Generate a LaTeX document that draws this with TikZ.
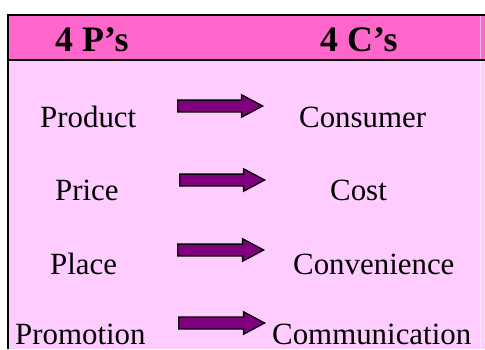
\documentclass[tikz,border=0pt]{standalone}
\usepackage{fontspec}
\setmainfont{Liberation Serif}
\usetikzlibrary{calc}
\definecolor{headpink}{HTML}{FF66CC}
\definecolor{bodypink}{HTML}{FFCCFF}
\definecolor{arrowpurple}{HTML}{800080}
\begin{document}
\begin{tikzpicture}[x=1bp,y=-1bp,
  rowtext/.style={anchor=base west, inner sep=0pt, font=\fontsize{31}{31}\selectfont},
  headtext/.style={anchor=base west, inner sep=0pt, font=\fontsize{36}{36}\selectfont\bfseries},
  rule/.style={line width=2.2bp, black},
  blockarrow/.style={fill=arrowpurple, draw=black, line width=1.3bp, line join=miter,
    to path={let \p1=(\tikztostart), \p2=(\tikztotarget) in
      (\x1,\y1+5.9bp) -- (\x2-21bp,\y1+5.9bp) -- (\x2-21bp,\y1+11.2bp) -- (\x2,\y1)
      -- (\x2-21bp,\y1-11.2bp) -- (\x2-21bp,\y1-5.9bp) -- (\x1,\y1-5.9bp) -- cycle}}]
\useasboundingbox (0,0) rectangle (485,349);
% table background
\fill[white] (0,0) rectangle (485,349);
\fill[bodypink] (8,60) rectangle (485,349);
\fill[headpink] (8,15) rectangle (485,60);
% table rules
\draw[white, opacity=0.55, line width=0.9bp] (480.5,16) -- (480.5,349);
\draw[rule] (6.9,15.3) -- (485,15.3);
\draw[rule] (8,14.2) -- (8,349);
\draw[rule] (8,59.8) -- (485,59.8);
% column headings
\node[headtext] (hp) at (55,51) {4 P’s};
\node[headtext] (hc) at (320,51) {4 C’s};
% rows
\node[rowtext] (product) at (40,127.5) {Product};
\node[rowtext] (consumer) at (299,127.5) {Consumer};
\node[rowtext] (price) at (55,200) {Price};
\node[rowtext] (cost) at (330,200) {Cost};
\node[rowtext] (place) at (50,274) {Place};
\node[rowtext] (convenience) at (293,274) {Convenience};
\node[rowtext] (promotion) at (15,344) {Promotion};
\node[rowtext] (communication) at (272,344) {Communication};
% arrow ends
\coordinate (a1s) at (177.7,106);
\coordinate (a1t) at (262.6,106);
\coordinate (a2s) at (179.7,180);
\coordinate (a2t) at (264.6,180);
\coordinate (a3s) at (177.7,250);
\coordinate (a3t) at (263.6,250);
\coordinate (a4s) at (178.7,323);
\coordinate (a4t) at (264.6,323);
\draw[blockarrow] (a1s) to (a1t);
\draw[blockarrow] (a2s) to (a2t);
\draw[blockarrow] (a3s) to (a3t);
\draw[blockarrow] (a4s) to (a4t);
\end{tikzpicture}
\end{document}
